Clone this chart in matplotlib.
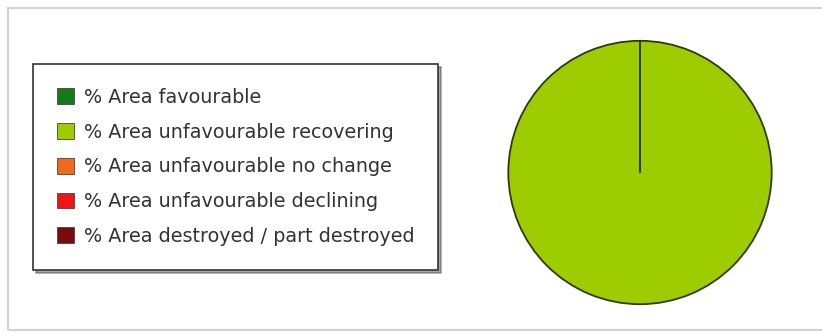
import matplotlib.pyplot as plt
from matplotlib.patches import Patch, Rectangle

# data
categories = [
    "% Area favourable",
    "% Area unfavourable recovering",
    "% Area unfavourable no change",
    "% Area unfavourable declining",
    "% Area destroyed / part destroyed",
]
values = [0, 100, 0, 0, 0]
colors = ["#167a1c", "#9dcc00", "#f06a1e", "#ee1515", "#7a0a0c"]

plt.rcParams['font.family'] = ['DejaVu Sans']

W, H = 822, 334
fig = plt.figure(figsize=(W / 100, H / 100), dpi=100)

# outer frame (runs off the right edge)
fig.patches.append(Rectangle((8 / W, 4 / H), (W - 4) / W, 322 / H,
                             transform=fig.transFigure, fill=False,
                             edgecolor="#d2d2d2", linewidth=1.5))

# pie
cx, cy, r = 640, 161.5, 133
ax = fig.add_axes([(cx - r) / W, (cy - r) / H, 2 * r / W, 2 * r / H])
ax.pie(values, colors=colors, startangle=90, counterclock=False,
       wedgeprops=dict(edgecolor="#2f3a08", linewidth=1.3))
ax.set_xlim(-1.01, 1.01)
ax.set_ylim(-1.01, 1.01)
ax.set_aspect('equal')

# legend
handles = [Patch(facecolor=c, edgecolor="#444444", linewidth=0.6) for c in colors]
leg = fig.legend(handles, categories, loc='upper left',
                 bbox_to_anchor=(33 / W, 1 - 64 / H),
                 frameon=True, fancybox=False, shadow=True,
                 fontsize=13.8, handlelength=0.9, handleheight=0.9,
                 handletextpad=0.5, labelspacing=0.82,
                 borderpad=1.25, borderaxespad=0)
leg.get_frame().set_edgecolor("#333333")
leg.get_frame().set_linewidth(1.2)
for t in leg.get_texts():
    t.set_color("#333333")

fig.savefig("out.png", dpi=100)
